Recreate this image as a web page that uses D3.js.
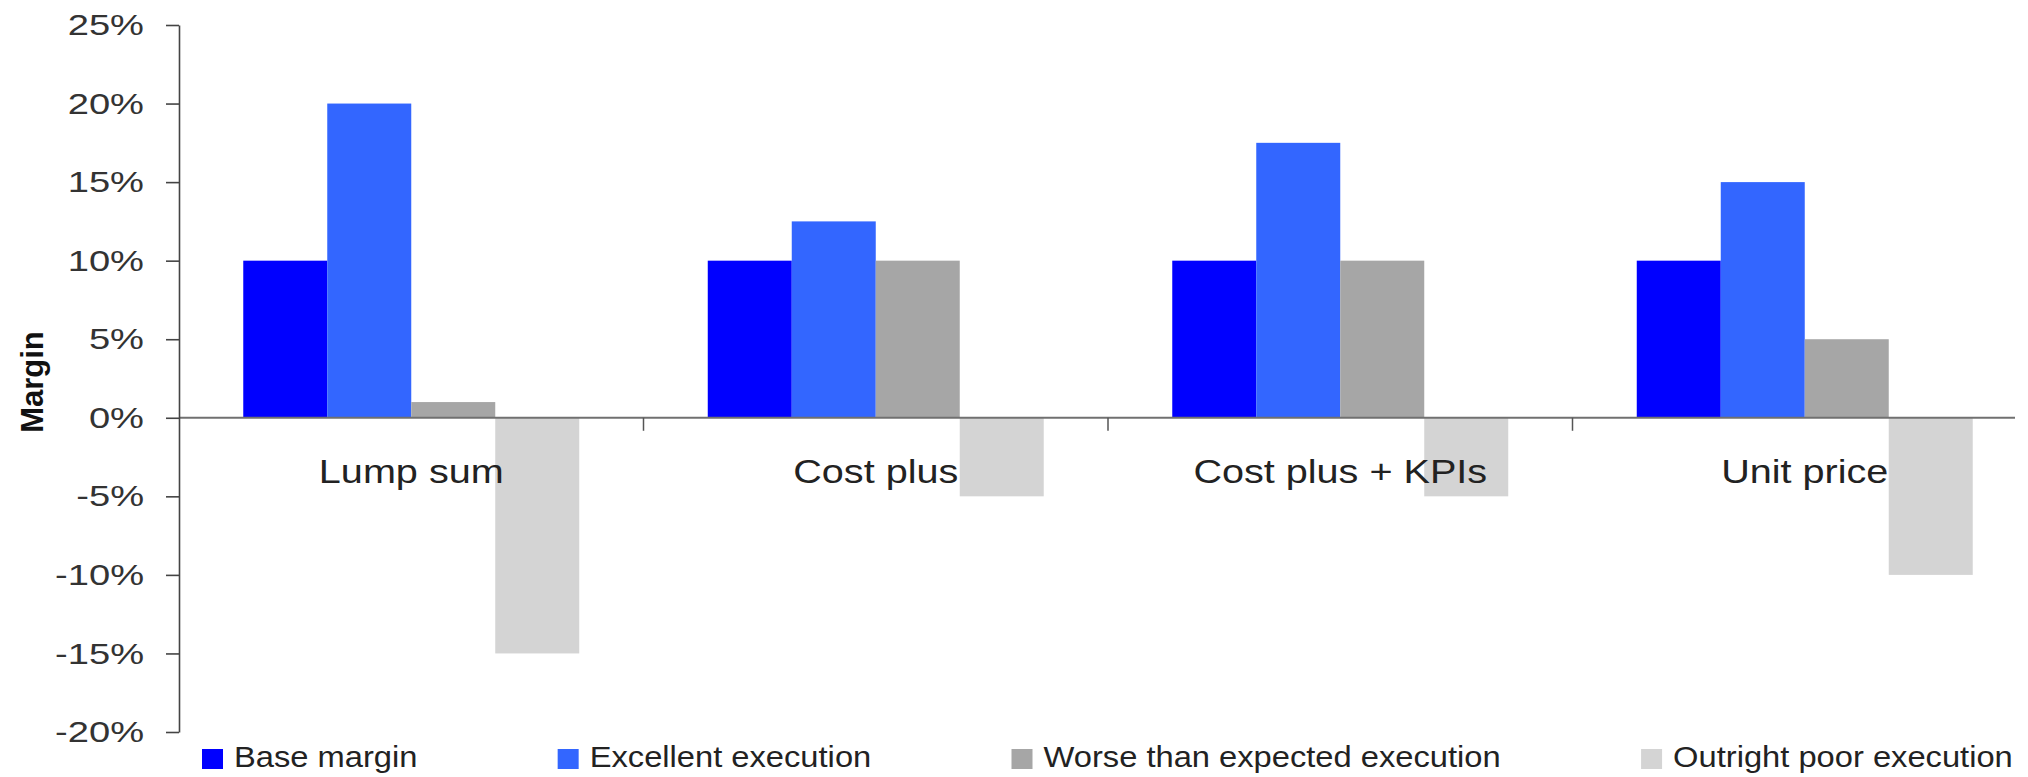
<!DOCTYPE html>
<html>
<head>
<meta charset="utf-8">
<script src="https://cdn.jsdelivr.net/npm/d3@7"></script>
<style>
  body { margin: 0; background: #fff; }
  svg text { font-family: "Liberation Sans", Arial, sans-serif; }
</style>
</head>
<body>
<svg id="chart" width="2028" height="777"></svg>
<script>
// Contract types and the margin scenarios compared for each
const categories = ["Lump sum", "Cost plus", "Cost plus + KPIs", "Unit price"];
const seriesNames = ["Base margin", "Excellent execution", "Worse than expected execution", "Outright poor execution"];

// Margin (%) per contract type, one array per scenario
const baseMargin         = [10, 10, 10, 10];
const excellentExecution = [20, 12.5, 17.5, 15];
const worseExecution     = [1, 10, 10, 5];
const poorExecution      = [-15, -5, -5, -10];

const yTickValues = [-20, -15, -10, -5, 0, 5, 10, 15, 20, 25];
const seriesColors = ["#0000ff", "#3366ff", "#a6a6a6", "#d4d4d4"];

const seriesValues = [baseMargin, excellentExecution, worseExecution, poorExecution];

// Layout
const plotLeft = 179, plotTop = 25, plotBottom = 732;
const bandStep = 464.5;
const axisEnd = 2015;

const svg = d3.select("#chart");

const x0 = d3.scaleBand()
  .domain(categories)
  .range([plotLeft, plotLeft + bandStep * categories.length])
  .paddingInner(0).paddingOuter(0);

const x1 = d3.scaleBand()
  .domain(seriesNames)
  .range([0, x0.bandwidth()])
  .paddingInner(0).paddingOuter(0.765);

const y = d3.scaleLinear().domain([-20, 25]).range([plotBottom, plotTop]);

// Bars
const rows = categories.map((c, i) => ({
  category: c,
  values: seriesNames.map((s, j) => ({ series: s, value: seriesValues[j][i], color: seriesColors[j] }))
}));

svg.append("g").selectAll("g")
  .data(rows)
  .join("g")
  .attr("transform", d => `translate(${x0(d.category)},0)`)
  .selectAll("rect")
  .data(d => d.values)
  .join("rect")
  .attr("x", d => x1(d.series))
  .attr("width", x1.bandwidth())
  .attr("y", d => y(Math.max(0, d.value)))
  .attr("height", d => Math.abs(y(d.value) - y(0)))
  .attr("fill", d => d.color);

// Zero line (category axis)
svg.append("line")
  .attr("x1", plotLeft).attr("x2", axisEnd)
  .attr("y1", y(0)).attr("y2", y(0))
  .attr("stroke", "#707070").attr("stroke-width", 2);

// Tick marks between categories
svg.append("g").selectAll("line")
  .data(categories.slice(1))
  .join("line")
  .attr("x1", d => x0(d)).attr("x2", d => x0(d))
  .attr("y1", y(0)).attr("y2", y(0) + 13)
  .attr("stroke", "#555").attr("stroke-width", 1.5);

// Category labels
const xAxis = svg.append("g")
  .attr("transform", `translate(0,${y(0)})`)
  .call(d3.axisBottom(x0).tickSize(0).tickPadding(42));
xAxis.select(".domain").remove();
xAxis.selectAll("text")
  .attr("font-size", 33)
  .attr("fill", "#222")
  .attr("transform", "scale(1.2,1)");

// Value axis
const yAxis = svg.append("g")
  .attr("transform", `translate(${plotLeft},0)`)
  .call(d3.axisLeft(y).tickValues(yTickValues).tickSize(13).tickSizeOuter(0)
    .tickFormat(d => d + "%"));
yAxis.select(".domain").attr("stroke", "#444").attr("stroke-width", 1.6);
yAxis.selectAll(".tick line").attr("stroke", "#444").attr("stroke-width", 1.6);
yAxis.selectAll("text")
  .attr("x", null)
  .attr("font-size", 30)
  .attr("fill", "#333")
  .attr("transform", "translate(-35,0) scale(1.27,1)");

// Axis title
svg.append("text")
  .attr("transform", "translate(43,382) rotate(-90)")
  .attr("text-anchor", "middle")
  .attr("font-size", 31)
  .attr("font-weight", "bold")
  .attr("fill", "#111")
  .text("Margin");

// Legend, spread evenly across the bottom row
const legendLeft = 202, legendRight = 2013, swatch = 21, swatchGap = 11, legendScale = 1.09;
const legend = svg.append("g");
const items = legend.selectAll("g")
  .data(seriesNames.map((s, j) => ({ name: s, color: seriesColors[j] })))
  .join("g");
items.append("rect")
  .attr("y", 749).attr("width", swatch).attr("height", 20)
  .attr("fill", d => d.color);
const labels = items.append("text")
  .attr("font-size", 30)
  .attr("fill", "#222")
  .text(d => d.name);
const widths = labels.nodes().map(n => n.getComputedTextLength() * legendScale);
const used = d3.sum(widths) + seriesNames.length * (swatch + swatchGap);
const gap = (legendRight - legendLeft - used) / (seriesNames.length - 1);
let cursor = legendLeft;
items.each(function(d, i) {
  d3.select(this).attr("transform", `translate(${cursor},0)`);
  cursor += swatch + swatchGap + widths[i] + gap;
});
labels.attr("transform", `translate(${swatch + swatchGap},767) scale(${legendScale},1)`);
</script>
</body>
</html>
